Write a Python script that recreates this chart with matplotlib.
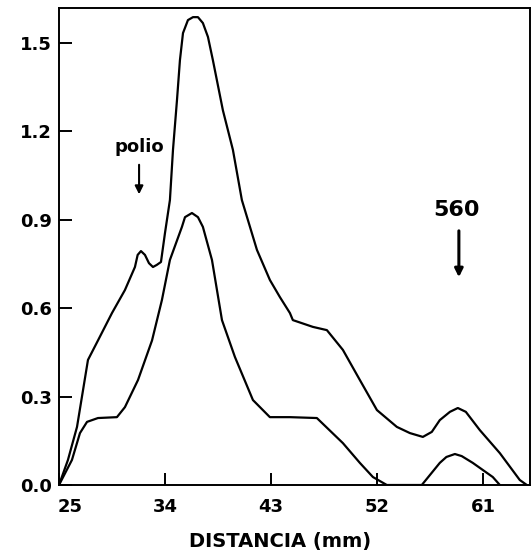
import matplotlib
matplotlib.use('Agg')
import matplotlib.pyplot as plt
from matplotlib.transforms import ScaledTranslation

plt.rcParams['font.family'] = ['DejaVu Sans']

# upper curve
upper_x = [25.0, 25.76, 26.53, 27.46, 28.31, 29.50, 30.60, 31.45, 31.68, 31.96,
           32.3, 32.64, 32.98, 33.3, 33.66, 34.0, 34.42, 34.68, 35.02, 35.27,
           35.53, 35.95, 36.38, 36.8, 37.22, 37.65, 38.07, 38.92, 39.77, 40.53,
           41.81, 42.91, 43.76, 44.61, 44.86, 46.56, 47.75, 49.11, 50.55, 52.0,
           53.69, 54.8, 55.9, 56.66, 57.34, 58.2, 58.87, 59.55, 60.74, 62.44,
           64.13, 64.73]
upper_y = [0.0, 0.085, 0.197, 0.424, 0.49, 0.583, 0.661, 0.739, 0.78, 0.793,
           0.78, 0.752, 0.739, 0.746, 0.756, 0.854, 0.966, 1.136, 1.305, 1.44,
           1.532, 1.576, 1.586, 1.586, 1.566, 1.519, 1.44, 1.27, 1.136, 0.966,
           0.797, 0.695, 0.637, 0.583, 0.559, 0.536, 0.525, 0.458, 0.356, 0.254,
           0.197, 0.176, 0.163, 0.18, 0.22, 0.248, 0.261, 0.248, 0.186, 0.108,
           0.017, 0.0]

# lower curve
lower_x = [25.0, 26.1, 26.78, 27.38, 28.31, 29.92, 30.6, 31.71, 32.9, 33.74,
           34.42, 35.44, 35.7, 36.29, 36.8, 37.22, 37.99, 38.84, 39.94, 41.47,
           42.91, 44.61, 46.9, 49.11, 50.55, 51.66, 52.84, 55.81, 57.34, 57.9,
           58.62, 59.2, 60.14, 61.84, 62.44]
lower_y = [0.0, 0.085, 0.176, 0.214, 0.227, 0.23, 0.264, 0.356, 0.49, 0.627,
           0.763, 0.875, 0.908, 0.922, 0.908, 0.875, 0.763, 0.559, 0.434, 0.288,
           0.23, 0.23, 0.227, 0.142, 0.075, 0.027, 0.0, 0.0, 0.075, 0.095,
           0.105, 0.098, 0.075, 0.027, 0.0]

x_ticks = [25, 34, 43, 52, 61]
y_ticks = [0.0, 0.3, 0.6, 0.9, 1.2, 1.5]

fig = plt.figure(figsize=(5.31, 5.52), dpi=100)
ax = fig.add_axes([59 / 531, 1 - 485 / 552, 471 / 531, 477 / 552])

ax.plot(upper_x, upper_y, color='black', lw=1.6, solid_joinstyle='round', solid_capstyle='round')
ax.plot(lower_x, lower_y, color='black', lw=1.6, solid_joinstyle='round', solid_capstyle='round')

ax.set_xlim(25, 65)
ax.set_ylim(0, 1.617)

ax.set_xticks(x_ticks)
ax.set_xticklabels([str(t) for t in x_ticks])
ax.set_yticks(y_ticks)
ax.set_yticklabels([f'{t:.1f}' for t in y_ticks])

ax.tick_params(axis='both', direction='in', length=9, width=1.4, labelsize=13)
ax.tick_params(axis='x', pad=9)
ax.tick_params(axis='y', pad=5)
for lab in ax.get_xticklabels() + ax.get_yticklabels():
    lab.set_fontweight('bold')
# first x label sits a little to the right of the corner
first = ax.get_xticklabels()[0]
first.set_transform(first.get_transform() + ScaledTranslation(8 / 72, 0, fig.dpi_scale_trans))

for s in ax.spines.values():
    s.set_linewidth(1.4)

ax.set_xlabel('DISTANCIA (mm)', fontsize=14, fontweight='bold')
ax.xaxis.set_label_coords(0.47, -0.098)

# annotations
ax.text(31.8, 1.146, 'polio', ha='center', va='center', fontsize=13, fontweight='bold')
ax.annotate('', xy=(31.8, 0.976), xytext=(31.8, 1.095),
            arrowprops=dict(arrowstyle='-|>', color='black', lw=1.5, mutation_scale=12))
ax.text(58.8, 0.932, '560', ha='center', va='center', fontsize=16, fontweight='bold')
ax.annotate('', xy=(58.96, 0.695), xytext=(58.96, 0.871),
            arrowprops=dict(arrowstyle='-|>', color='black', lw=2.2, mutation_scale=12))

fig.savefig('out.png', dpi=100)
